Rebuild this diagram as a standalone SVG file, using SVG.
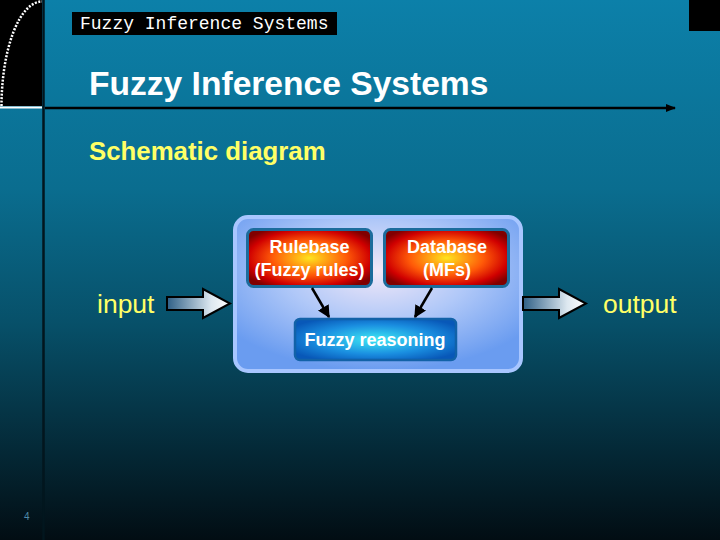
<svg xmlns="http://www.w3.org/2000/svg" width="720" height="540" viewBox="0 0 720 540">
<defs>
<linearGradient id="bg" x1="0" y1="0" x2="0" y2="1">
<stop offset="0" stop-color="#0c80a9"/>
<stop offset="0.35" stop-color="#0a6d8f"/>
<stop offset="0.6" stop-color="#075069"/>
<stop offset="1" stop-color="#020d13"/>
</linearGradient>
<radialGradient id="outer" cx="0.5" cy="0.35" r="0.65">
<stop offset="0" stop-color="#f2e8f8"/>
<stop offset="0.5" stop-color="#b0c8f8"/>
<stop offset="1" stop-color="#6a9cf0"/>
</radialGradient>
<radialGradient id="red" cx="0.5" cy="0.5" r="0.6">
<stop offset="0" stop-color="#ffe41e"/>
<stop offset="0.5" stop-color="#ff5a08"/>
<stop offset="0.82" stop-color="#d00000"/>
<stop offset="1" stop-color="#800000"/>
</radialGradient>
<radialGradient id="blue" cx="0.5" cy="0.5" r="0.6">
<stop offset="0" stop-color="#3ee8f4"/>
<stop offset="0.6" stop-color="#1a8ee0"/>
<stop offset="1" stop-color="#0858b8"/>
</radialGradient>
<linearGradient id="barrow" x1="0" y1="0" x2="1" y2="0">
<stop offset="0" stop-color="#2e5f86"/>
<stop offset="0.7" stop-color="#dde8f0"/>
<stop offset="1" stop-color="#ffffff"/>
</linearGradient>
<marker id="ah" viewBox="0 0 10 10" refX="9" refY="5" markerWidth="5" markerHeight="5" orient="auto">
<path d="M0,0 L10,5 L0,10 z" fill="#000"/>
</marker>
<marker id="ah2" viewBox="0 0 10 10" refX="9" refY="5" markerWidth="4" markerHeight="4" orient="auto">
<path d="M0,1 L10,5 L0,9 z" fill="#000"/>
</marker>
</defs>
<style>
.wt{font-family:"Liberation Sans",Arial,sans-serif;font-weight:bold;fill:#fff;font-size:18px;text-anchor:middle}
.yl{font-family:"Liberation Sans",Arial,sans-serif;fill:#ffff66}
.conn{stroke:#000;stroke-width:2.5;fill:none;marker-end:url(#ah)}
.barrow{fill:url(#barrow);stroke:#000;stroke-width:2}
</style>
<rect x="0" y="0" width="720" height="540" fill="url(#bg)"/>
<g id="frame">
<rect x="0" y="0" width="42" height="106" fill="#000"/>
<path d="M1.5,106 A40.5,105 0 0 1 42,1.5" fill="none" stroke="#fff" stroke-width="2.5" stroke-dasharray="2 1.5"/>
<line x1="0" y1="107.5" x2="42" y2="107.5" stroke="#fff" stroke-width="2"/>
<line x1="43.5" y1="0" x2="43.5" y2="540" stroke="#02161e" stroke-width="2.5"/>
<line x1="45" y1="108" x2="675" y2="108" stroke="#000" stroke-width="2.5" marker-end="url(#ah2)"/>
<rect x="689" y="0" width="31" height="31" fill="#000"/>
<rect x="72" y="12" width="265" height="23" fill="#000"/>
<text x="80" y="29" font-family="Liberation Mono,Courier New,monospace" font-size="18" fill="#fff">Fuzzy Inference Systems</text>
<text x="89" y="95" font-family="Liberation Sans,Arial,sans-serif" font-weight="bold" font-size="33.6" fill="#fff">Fuzzy Inference Systems</text>
<text x="89" y="160" class="yl" font-weight="bold" font-size="25.8">Schematic diagram</text>
<text x="24" y="520" font-family="Liberation Sans,Arial,sans-serif" font-size="10" fill="#4f8aa8">4</text>
</g>
<g id="system">
<rect x="235" y="217" width="286" height="154" rx="13" fill="url(#outer)" stroke="#a8c6ff" stroke-width="4"/>
</g>
<g id="rulebase">
<rect x="247.5" y="229.5" width="124" height="57" rx="6" fill="url(#red)" stroke="#1c6c9c" stroke-width="3"/>
<text x="309.5" y="253" class="wt">Rulebase</text>
<text x="309.5" y="276" class="wt">(Fuzzy rules)</text>
</g>
<g id="database">
<rect x="384.5" y="229.5" width="124" height="57" rx="6" fill="url(#red)" stroke="#1c6c9c" stroke-width="3"/>
<text x="447" y="253" class="wt">Database</text>
<text x="447" y="276" class="wt">(MFs)</text>
</g>
<g id="reasoning">
<rect x="295" y="319" width="161" height="41" rx="5" fill="url(#blue)" stroke="#1262a8" stroke-width="2.5"/>
<text x="375" y="346" class="wt">Fuzzy reasoning</text>
</g>
<g id="input">
<text x="97" y="313" class="yl" font-size="26.5">input</text>
<polygon class="barrow" points="167,297 203,297 203,289 230,303.5 203,318 203,310 167,310"/>
</g>
<g id="output">
<polygon class="barrow" points="523,297 559,297 559,289 586,303.5 559,318 559,310 523,310"/>
<text x="603" y="313" class="yl" font-size="26.5">output</text>
</g>
<g id="connectors">
<line class="conn" x1="312" y1="288" x2="329" y2="317"/>
<line class="conn" x1="432" y1="288" x2="415" y2="317"/>
</g>
</svg>
